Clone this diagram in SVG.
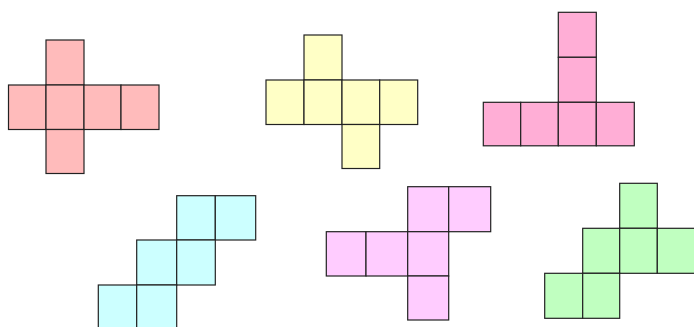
<svg xmlns="http://www.w3.org/2000/svg" width="694" height="327" viewBox="0 0 694 327">
<style>
g rect{stroke:#222;stroke-width:1.2}
.a rect{fill:#ffbbbb}
.b rect{fill:#ffffc6}
.c rect{fill:#ffaed6}
.d rect{fill:#ccffff}
.e rect{fill:#ffccff}
.f rect{fill:#c0ffc0}
</style>
<rect x="0" y="0" width="694" height="327" fill="#fff"/>
<g id="net1" class="a">
<rect x="46" y="40" width="38" height="45"/>
<rect x="8.5" y="85" width="37.5" height="44.5"/>
<rect x="46" y="85" width="38" height="44.5"/>
<rect x="84" y="85" width="37" height="44.5"/>
<rect x="121" y="85" width="38" height="44.5"/>
<rect x="46" y="129.5" width="38" height="44"/>
</g>
<g id="net2" class="b">
<rect x="304" y="35" width="38" height="45"/>
<rect x="266" y="80" width="38" height="44.5"/>
<rect x="304" y="80" width="38" height="44.5"/>
<rect x="342" y="80" width="37.7" height="44.5"/>
<rect x="379.7" y="80" width="38" height="44.5"/>
<rect x="342" y="124.5" width="37.7" height="44"/>
</g>
<g id="net3" class="c">
<rect x="558.3" y="12.3" width="38" height="45"/>
<rect x="558.3" y="57.3" width="38" height="45"/>
<rect x="483.3" y="102.3" width="37.4" height="43.5"/>
<rect x="520.7" y="102.3" width="37.6" height="43.5"/>
<rect x="558.3" y="102.3" width="38" height="43.5"/>
<rect x="596.3" y="102.3" width="38" height="43.5"/>
</g>
<g id="net4" class="d">
<rect x="176.7" y="195.7" width="38.6" height="44.3"/>
<rect x="215.3" y="195.7" width="40.4" height="44.3"/>
<rect x="136.7" y="240" width="40" height="45"/>
<rect x="176.7" y="240" width="38.6" height="45"/>
<rect x="98.3" y="285" width="38.4" height="45"/>
<rect x="136.7" y="285" width="40" height="45"/>
</g>
<g id="net5" class="e">
<rect x="407.7" y="186.7" width="41" height="45"/>
<rect x="448.7" y="186.7" width="42" height="45"/>
<rect x="326.3" y="231.7" width="39.7" height="44.3"/>
<rect x="366" y="231.7" width="41.7" height="44.3"/>
<rect x="407.7" y="231.7" width="41" height="44.3"/>
<rect x="407.7" y="276" width="41" height="44"/>
</g>
<g id="net6" class="f">
<rect x="619.7" y="183.3" width="37.6" height="45"/>
<rect x="582.7" y="228.3" width="37" height="45"/>
<rect x="619.7" y="228.3" width="37.6" height="45"/>
<rect x="657.3" y="228.3" width="38" height="45"/>
<rect x="544.7" y="273.3" width="38" height="45"/>
<rect x="582.7" y="273.3" width="37" height="45"/>
</g>
<g id="connectors"/>
</svg>
